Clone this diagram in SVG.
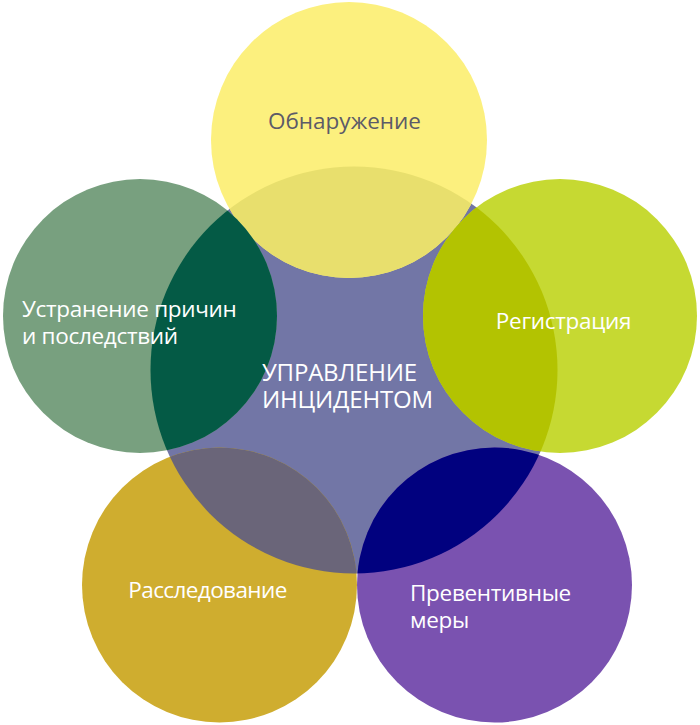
<svg xmlns="http://www.w3.org/2000/svg" width="700" height="725" viewBox="0 0 700 725">
<style>
.lbl{font-family:"Open Sans","Noto Sans","Liberation Sans",sans-serif;font-size:22.5px;letter-spacing:-0.3px;fill:#ffffff}
.mid{text-anchor:middle}
</style>
<defs>
<clipPath id="cc"><circle cx="354" cy="370" r="203.5"/></clipPath>
</defs>
<rect width="700" height="725" fill="#ffffff"/>
<g id="node-center">
<circle cx="354" cy="370" r="203.5" fill="#7276A6"/>
</g>
<g id="node-top">
<circle cx="349" cy="140" r="138" fill="#FCF07E"/>
<circle cx="349" cy="140" r="138" fill="#E8DF6D" clip-path="url(#cc)"/>
<text class="lbl mid" x="344.5" y="129" style="fill:#5C5B68;letter-spacing:0">Обнаружение</text>
</g>
<g id="node-left">
<circle cx="140" cy="316" r="137" fill="#78A07F"/>
<circle cx="140" cy="316" r="137" fill="#045A45" clip-path="url(#cc)"/>
<text class="lbl" x="22" y="317"><tspan x="22" y="317">Устранение причин</tspan><tspan x="22" y="344">и последствий</tspan></text>
</g>
<g id="node-right">
<circle cx="560" cy="316" r="137" fill="#C6D932"/>
<circle cx="560" cy="316" r="137" fill="#B3C301" clip-path="url(#cc)"/>
<text class="lbl mid" x="563.5" y="328.5">Регистрация</text>
</g>
<g id="node-bottom-left">
<circle cx="219.5" cy="585" r="137.5" fill="#CFAD2F"/>
<circle cx="219.5" cy="585" r="137.5" fill="#6A6579" clip-path="url(#cc)"/>
<text class="lbl mid" x="207.5" y="598" style="letter-spacing:-0.6px">Расследование</text>
</g>
<g id="node-bottom-right">
<circle cx="494.5" cy="585" r="137.5" fill="#7A52B0"/>
<circle cx="494.5" cy="585" r="137.5" fill="#01017F" clip-path="url(#cc)"/>
<text class="lbl" x="410" y="600.5"><tspan x="410" y="600.5">Превентивные</tspan><tspan x="410" y="627.5">меры</tspan></text>
</g>
<g id="node-center-label">
<text class="lbl" x="262" y="381" style="font-size:24px;letter-spacing:-0.2px"><tspan x="262" y="381">УПРАВЛЕНИЕ</tspan><tspan x="262" y="407.5">ИНЦИДЕНТОМ</tspan></text>
</g>
</svg>
